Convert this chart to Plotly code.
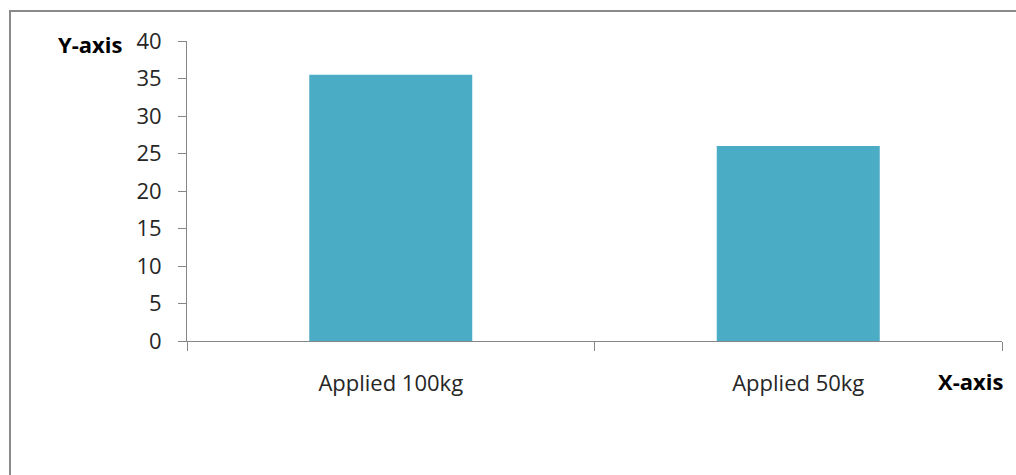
import plotly.graph_objects as go

# Category labels and bar values
categories = ["Applied 100kg", "Applied 50kg"]
values = [35.5, 26]

# Y-axis ticks
y_ticks = [0, 5, 10, 15, 20, 25, 30, 35, 40]

W, H = 1016, 475
L, R, T, B = 187, 14, 41, 134
pw, ph = W - L - R, H - T - B

axis_color = "#868686"
font_family = "Open Sans, Liberation Sans, sans-serif"
label_size = 22

fig = go.Figure(
    go.Bar(
        x=categories,
        y=values,
        marker=dict(color="#4bacc6", line=dict(width=0)),
    )
)

fig.update_layout(
    width=W,
    height=H,
    margin=dict(l=L, r=R, t=T, b=B),
    paper_bgcolor="white",
    plot_bgcolor="white",
    bargap=0.6,
    showlegend=False,
    font=dict(family=font_family, size=label_size, color="#262626"),
    xaxis=dict(
        showline=True,
        linecolor=axis_color,
        linewidth=1,
        ticks="outside",
        ticklen=9,
        tickcolor=axis_color,
        tickson="boundaries",
        ticklabelstandoff=23,
        showgrid=False,
        zeroline=False,
        tickfont=dict(size=label_size, family=font_family, color="#262626"),
    ),
    yaxis=dict(
        range=[0, 40],
        tickvals=y_ticks,
        showline=True,
        linecolor=axis_color,
        linewidth=1,
        ticks="outside",
        ticklen=8,
        tickcolor=axis_color,
        ticklabelstandoff=12,
        showgrid=False,
        zeroline=False,
        tickfont=dict(size=label_size, family=font_family, color="#262626"),
    ),
)

# Outer chart border (extends beyond the visible area on right and bottom)
bx0 = (10 - L) / pw
by1 = (H - B - 11) / ph
fig.add_shape(
    type="rect",
    xref="paper",
    yref="paper",
    x0=bx0,
    x1=1.2,
    y0=-0.6,
    y1=by1,
    line=dict(color="#8a8a8a", width=2),
    fillcolor="rgba(0,0,0,0)",
    layer="below",
)

# Axis titles
fig.add_annotation(
    text="<b>Y-axis</b>",
    xref="paper",
    yref="paper",
    x=(125 - L) / pw,
    y=(H - B - 44) / ph,
    xanchor="right",
    yanchor="middle",
    showarrow=False,
    font=dict(size=label_size, family=font_family, color="black"),
)
fig.add_annotation(
    text="<b>X-axis</b>",
    xref="paper",
    yref="paper",
    x=(1005 - L) / pw,
    y=(H - B - 381) / ph,
    xanchor="right",
    yanchor="middle",
    showarrow=False,
    font=dict(size=label_size, family=font_family, color="black"),
)

fig.write_html("out.html")
